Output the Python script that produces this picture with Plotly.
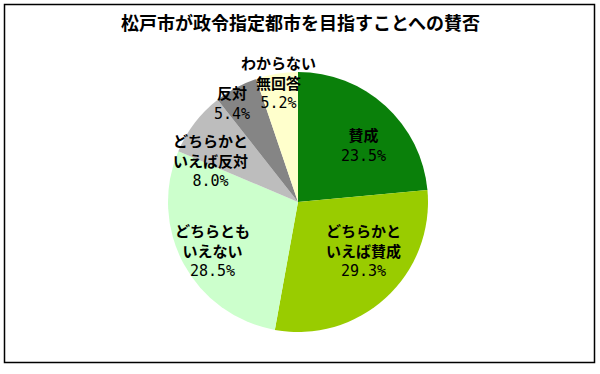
import plotly.graph_objects as go

title = "松戸市が政令指定都市を目指すことへの賛否"
categories = ["賛成", "どちらかといえば賛成", "どちらともいえない",
              "どちらかといえば反対", "反対", "わからない無回答"]
values = [23.5, 29.3, 28.5, 8.0, 5.4, 5.2]
label_lines = [["賛成"], ["どちらかと", "いえば賛成"], ["どちらとも", "いえない"],
               ["どちらかと", "いえば反対"], ["反対"], ["わからない", "無回答"]]
colors = ["#0A800A", "#99CC00", "#CCFFCC", "#BDBDBD", "#858585", "#FFFFCC"]

W, H = 600, 374
cx, cy, r = 298, 202, 130

fig = go.Figure(go.Pie(
    labels=categories, values=values, sort=False, direction="clockwise",
    rotation=0, textinfo="none", hoverinfo="label+percent",
    marker=dict(colors=colors, line=dict(width=0)),
    domain=dict(x=[(cx - r) / W, (cx + r) / W], y=[(H - cy - r) / H, (H - cy + r) / H]),
    showlegend=False,
))

# label anchor positions (pixels) for each category's text block: (x center, first line y)
label_pos = [(363, 135), (363, 230), (212, 230), (210, 140), (232, 93), (278, 62)]
line_h = 19.5
for lines, v, (x, y0) in zip(label_lines, values, label_pos):
    parts = ["<b>" + t + "</b>" for t in lines]
    parts.append("<span style='font-family:DejaVu Sans Mono'>" + f"{v:.1f}%" + "</span>")
    yc = y0 + (len(parts) - 1) * line_h / 2
    fig.add_annotation(x=x / W, y=1 - yc / H, xref="paper", yref="paper",
                       text="<br>".join(parts), showarrow=False, align="center",
                       font=dict(family="Noto Sans CJK JP", size=15, color="#000"),
                       xanchor="center", yanchor="middle")

fig.add_annotation(x=0.5, y=1 - 22 / H, xref="paper", yref="paper", text="<b>" + title + "</b>",
                   showarrow=False, font=dict(family="Noto Sans CJK JP", size=18, color="#000"),
                   xanchor="center", yanchor="middle")

fig.add_shape(type="rect", xref="paper", yref="paper",
              x0=4.5 / W, x1=594.5 / W, y0=1 - 362.5 / H, y1=1 - 4.5 / H,
              line=dict(color="#000", width=1.5), fillcolor="rgba(0,0,0,0)")

fig.update_layout(width=W, height=H, margin=dict(l=0, r=0, t=0, b=0),
                  paper_bgcolor="white", plot_bgcolor="white")
fig.write_html("out.html", config={"displayModeBar": False})

with open("out.html", encoding="utf-8") as f:
    html = f.read()
html = html.replace("<head>", "<head><style>html,body{margin:0;padding:0;overflow:hidden;}</style>", 1)
with open("out.html", "w", encoding="utf-8") as f:
    f.write(html)
